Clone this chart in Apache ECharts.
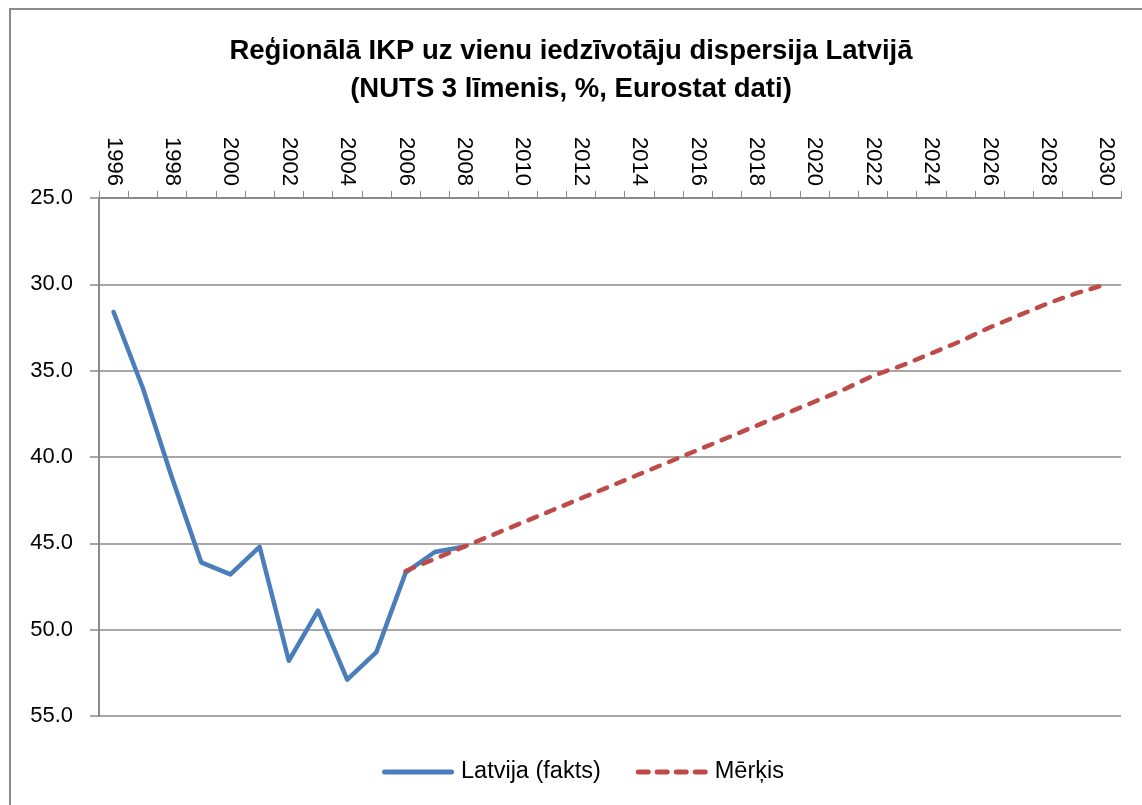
<!DOCTYPE html>
<html>
<head>
<meta charset="utf-8">
<script src="https://cdn.jsdelivr.net/npm/echarts@6/dist/echarts.min.js"></script>
<style>html,body{margin:0;padding:0;background:#fff}#c{width:1142px;height:805px}</style>
</head>
<body>
<div id="c"></div>
<script>
const years = [];
for (let y = 1996; y <= 2030; y++) years.push(String(y));
const latvija = [31.6, 36.0, 41.2, 46.1, 46.8, 45.2, 51.8, 48.9, 52.9, 51.3, 46.7, 45.5, 45.2];
const merkis = [46.6, 45.9, 45.2, 44.5, 43.8, 43.1, 42.4, 41.7, 41.0, 40.3, 39.6, 38.9, 38.2, 37.5, 36.8, 36.1, 35.3, 34.7, 34.0, 33.3, 32.5, 31.8, 31.1, 30.5, 30.0];
const merkisStart = 2006;
const titleLines = ['Reģionālā IKP uz vienu iedzīvotāju dispersija Latvijā', '(NUTS 3 līmenis, %, Eurostat dati)'];
const seriesNames = ['Latvija (fakts)', 'Mērķis'];

const latvijaData = years.map((y, i) => i < latvija.length ? latvija[i] : null);
const merkisData = years.map(y => {
  const k = Number(y) - merkisStart;
  return k >= 0 && k < merkis.length ? merkis[k] : null;
});

const FONT = '"Liberation Sans", Arial, sans-serif';
const GRAY = '#8a8a8a';
const BLUE = '#4A7EBB';
const RED = '#BE4B48';
const solidIcon = 'path://M2.5,0H69.5A2.5,2.5,0,0,1,69.5,5H2.5A2.5,2.5,0,0,1,2.5,0Z';
const dashIcon = 'path://M2,0H12A2.5,2.5,0,0,1,12,5H2A2.5,2.5,0,0,1,2,0Z'
  + 'M21,0H31A2.5,2.5,0,0,1,31,5H21A2.5,2.5,0,0,1,21,0Z'
  + 'M40,0H50A2.5,2.5,0,0,1,50,5H40A2.5,2.5,0,0,1,40,0Z'
  + 'M59,0H69A2.5,2.5,0,0,1,69,5H59A2.5,2.5,0,0,1,59,0Z';

const chart = echarts.init(document.getElementById('c'), null, {renderer: 'canvas'});
chart.setOption({
  animation: false,
  backgroundColor: '#ffffff',
  graphic: [{
    type: 'rect', silent: true,
    shape: {x: 10, y: 9, width: 1200, height: 900},
    style: {fill: 'none', stroke: GRAY, lineWidth: 2}
  }],
  title: {
    text: titleLines.join('\n'),
    left: 'center',
    top: 27,
    textStyle: {fontFamily: FONT, fontWeight: 'bold', fontSize: 27.5, lineHeight: 38, color: '#000'}
  },
  legend: {
    data: [
      {name: seriesNames[0], icon: solidIcon, itemStyle: {color: BLUE}},
      {name: seriesNames[1], icon: dashIcon, itemStyle: {color: RED}}
    ],
    left: 377,
    top: 755,
    itemWidth: 72,
    itemHeight: 5,
    itemGap: 35,
    textStyle: {fontFamily: FONT, fontSize: 23.5, color: '#000', padding: [0, 0, 0, 2]}
  },
  grid: {left: 99, right: 21, top: 198, height: 518},
  xAxis: {
    type: 'category',
    position: 'top',
    data: years,
    boundaryGap: true,
    axisLine: {show: true, onZero: false, lineStyle: {color: GRAY, width: 2}},
    axisTick: {show: true, interval: 0, length: 7, lineStyle: {color: GRAY, width: 1}},
    axisLabel: {interval: 1, rotate: 90, margin: 12, fontFamily: FONT, fontSize: 22, color: '#000'},
    splitLine: {show: false}
  },
  yAxis: {
    type: 'value',
    inverse: true,
    min: 25, max: 55, interval: 5,
    axisLine: {show: true, lineStyle: {color: GRAY, width: 2}},
    axisTick: {show: true, length: 9, lineStyle: {color: GRAY, width: 1.5}},
    axisLabel: {margin: 26, fontFamily: FONT, fontSize: 22, color: '#000', formatter: v => v.toFixed(1)},
    splitLine: {show: true, lineStyle: {color: GRAY, width: 1.5}}
  },
  series: [{
    name: seriesNames[0],
    type: 'line',
    data: latvijaData,
    symbol: 'none',
    connectNulls: false,
    z: 2,
    lineStyle: {color: BLUE, width: 4.5, join: 'round', cap: 'round'},
    itemStyle: {color: BLUE}
  }, {
    name: seriesNames[1],
    type: 'line',
    data: merkisData,
    symbol: 'none',
    z: 3,
    lineStyle: {color: RED, width: 4.5, type: [9, 10], cap: 'round'},
    itemStyle: {color: RED}
  }]
});
</script>
</body>
</html>
